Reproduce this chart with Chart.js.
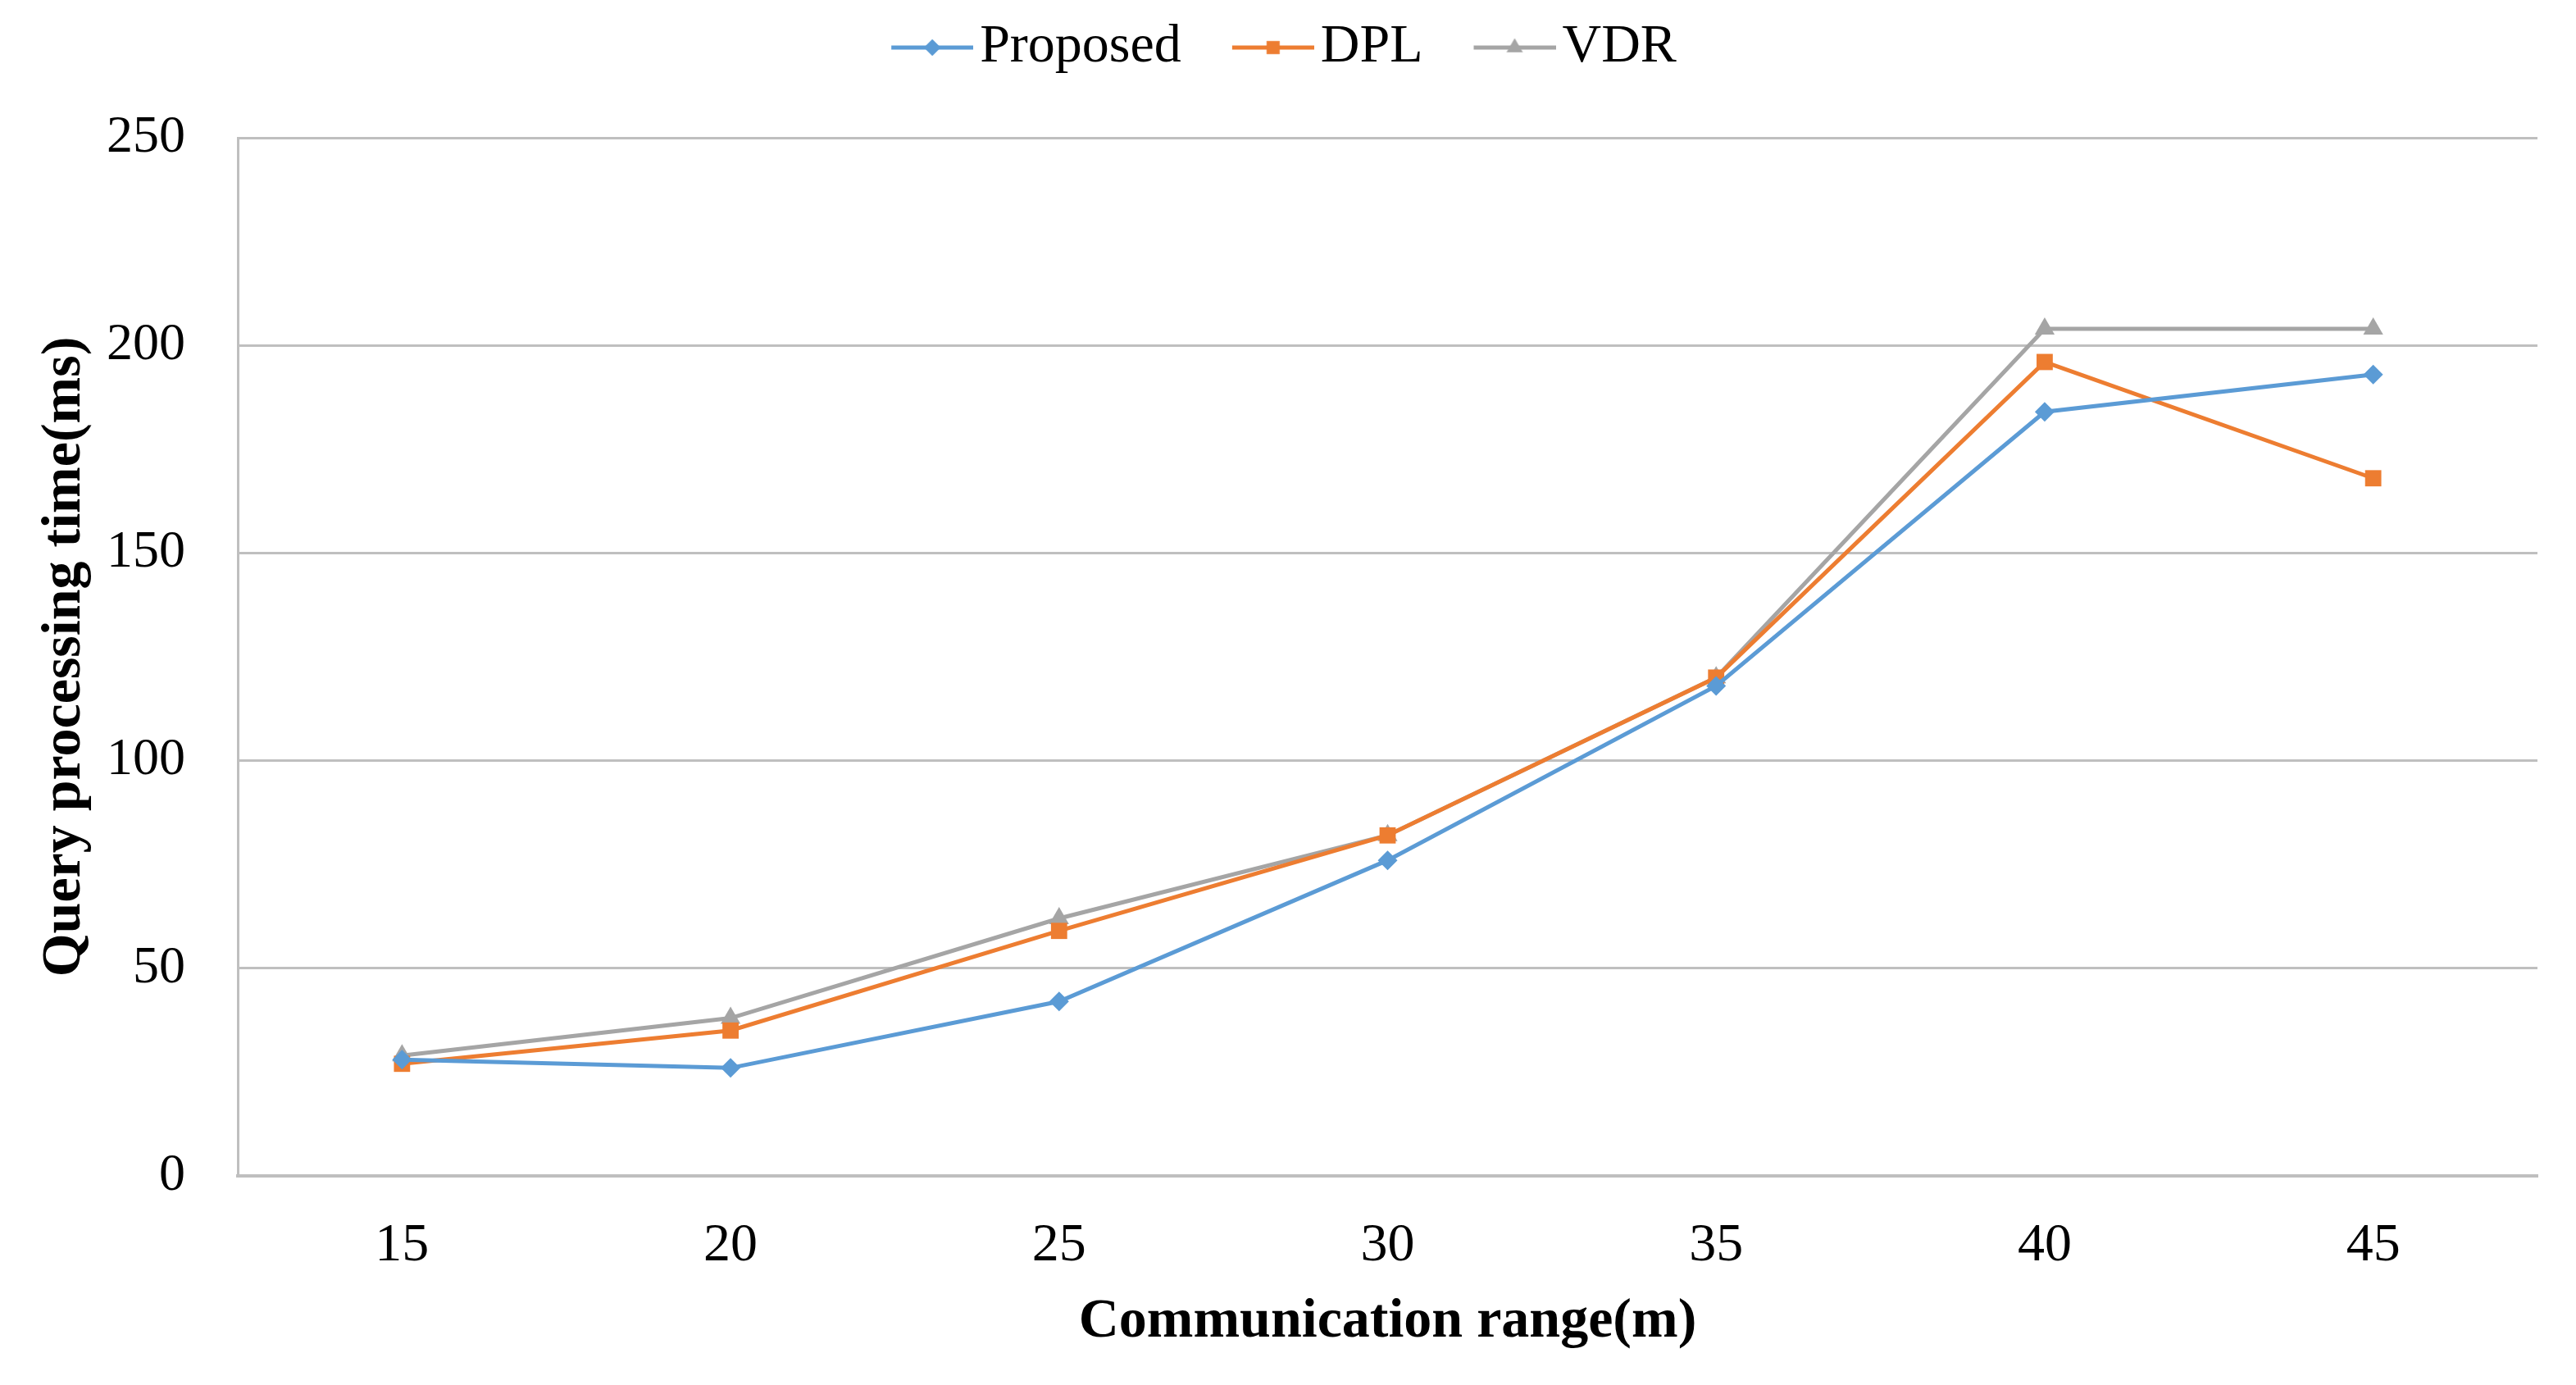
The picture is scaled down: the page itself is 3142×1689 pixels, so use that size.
<!DOCTYPE html>
<html>
<head>
<meta charset="utf-8">
<script src="https://cdn.jsdelivr.net/npm/chart.js@4.4.1/dist/chart.umd.min.js"></script>
<style>
  html, body { margin: 0; padding: 0; background: #ffffff; }
  canvas { display: block; }
</style>
</head>
<body>
<canvas id="c" width="3142" height="1689"></canvas>
<script>
// ---- data ----
const categories = ['15', '20', '25', '30', '35', '40', '45'];
const proposed = [28, 26, 42, 76, 118, 184, 193];
const dpl      = [27, 35, 59, 82, 120, 196, 168];
const vdr      = [29, 38, 62, 82, 120, 204, 204];
const seriesNames = ['Proposed', 'DPL', 'VDR'];
const yTicks = [0, 50, 100, 150, 200, 250];
const xTitle = 'Communication range(m)';
const yTitle = 'Query processing time(ms)';

const colors = ['#5B9BD5', '#ED7D31', '#A5A5A5'];
const styles = ['rectRot', 'rect', 'triangle'];
const radii = [12, 14, 14];
const FONT = "'Liberation Serif', 'Times New Roman', serif";

function legendIcon(color, style, r) {
  const c = document.createElement('canvas');
  c.width = 162; c.height = 40;
  const ctx = c.getContext('2d');
  ctx.strokeStyle = color; ctx.fillStyle = color; ctx.lineWidth = 5;
  ctx.beginPath(); ctx.moveTo(62, 20); ctx.lineTo(162, 20); ctx.stroke();
  ctx.lineWidth = 0.5;
  Chart.helpers.drawPoint(ctx, {pointStyle: style, radius: r, borderWidth: 0.5, rotation: 0}, 112, 20);
  return c;
}

function ds(i, data) {
  return {
    label: seriesNames[i],
    data: data,
    borderColor: colors[i],
    backgroundColor: colors[i],
    borderWidth: 5,
    pointStyle: styles[i],
    pointRadius: radii[i],
    pointBorderWidth: 0,
    pointBackgroundColor: colors[i],
    pointBorderColor: colors[i],
    tension: 0,
    fill: false
  };
}

const legendHeightPlugin = {
  id: 'legendHeight',
  beforeLayout(chart) {
    const lg = chart.legend;
    if (lg && !lg._wrapped) {
      const orig = lg.fit;
      lg.fit = function () { orig.call(this); this.height = 168; };
      lg._wrapped = true;
    }
  }
};

const chart = new Chart(document.getElementById('c'), {
  type: 'line',
  data: {
    labels: categories,
    datasets: [ds(0, proposed), ds(1, dpl), ds(2, vdr)]
  },
  plugins: [legendHeightPlugin],
  options: {
    responsive: false,
    devicePixelRatio: 1,
    animation: false,
    layout: { padding: { left: 0, right: 47, top: 0, bottom: 0 } },
    plugins: {
      tooltip: { enabled: false },
      legend: {
        display: true,
        position: 'top',
        labels: {
          usePointStyle: true,
          pointStyleWidth: 112,
          padding: 25,
          color: '#000000',
          font: { family: FONT, size: 66 },
          generateLabels(chart) {
            return chart.data.datasets.map((d, i) => ({
              text: d.label,
              pointStyle: legendIcon(colors[i], styles[i], [10, 11, 11][i]),
              fillStyle: colors[i],
              strokeStyle: colors[i],
              lineWidth: 0,
              hidden: false,
              datasetIndex: i,
              fontColor: '#000000'
            }));
          }
        }
      }
    },
    scales: {
      x: {
        type: 'category',
        offset: true,
        grid: { display: false, drawTicks: false },
        border: { display: true, color: '#BFBFBF', width: 4 },
        ticks: { color: '#000000', padding: 46, font: { family: FONT, size: 66 } },
        title: {
          display: true, text: xTitle, color: '#000000',
          font: { family: FONT, size: 68, weight: 'bold' },
          padding: { top: 0, bottom: 36 }
        },
        afterFit(scale) { scale.height = 255; }
      },
      y: {
        min: 0, max: 250,
        afterBuildTicks(scale) { scale.ticks = yTicks.map(v => ({ value: v })); },
        grid: { display: true, color: '#BFBFBF', lineWidth: 3, drawTicks: false },
        border: { display: true, color: '#BFBFBF', width: 3 },
        ticks: { color: '#000000', padding: 64, font: { family: FONT, size: 64 } },
        title: {
          display: true, text: yTitle, color: '#000000',
          font: { family: FONT, size: 68, weight: 'bold' },
          padding: { top: 39, bottom: 0 }
        },
        afterFit(scale) { scale.width = 290; }
      }
    }
  }
});
</script>
</body>
</html>
